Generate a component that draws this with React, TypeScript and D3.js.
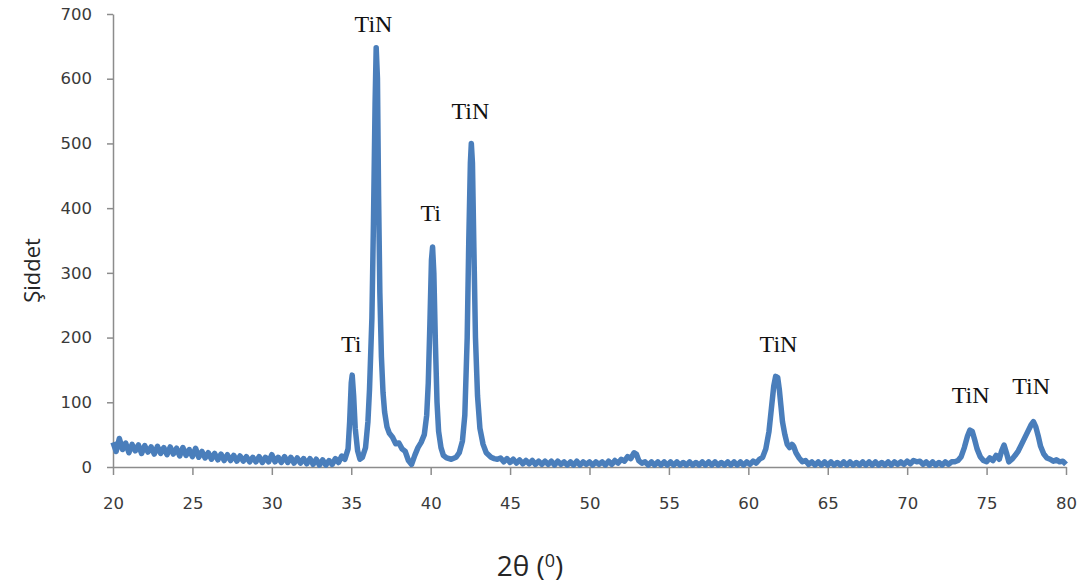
import React, { useEffect, useRef } from 'react';
import * as d3 from 'd3';

// 2θ (degrees) and intensity
const angles = [
  20.0, 20.2, 20.4, 20.6, 20.8, 21.0, 21.2, 21.4, 21.6, 21.8, 22.0, 22.2, 22.4, 22.6, 22.8,
  23.0, 23.2, 23.4, 23.6, 23.8, 24.0, 24.2, 24.4, 24.6, 24.8, 25.0, 25.2, 25.4, 25.6, 25.8,
  26.0, 26.2, 26.4, 26.6, 26.8, 27.0, 27.2, 27.4, 27.6, 27.8, 28.0, 28.2, 28.4, 28.6, 28.8,
  29.0, 29.2, 29.4, 29.6, 29.8, 30.0, 30.2, 30.4, 30.6, 30.8, 31.0, 31.2, 31.4, 31.6, 31.8,
  32.0, 32.2, 32.4, 32.6, 32.8, 33.0, 33.2, 33.4, 33.6, 33.8, 34.0, 34.2, 34.4, 34.6, 34.8,
  34.9, 35.0, 35.06, 35.15, 35.25, 35.4, 35.55, 35.7, 35.9, 36.05, 36.15, 36.3, 36.4, 36.5,
  36.57, 36.65, 36.72, 36.8, 36.9, 37.0, 37.1, 37.25, 37.4, 37.6, 37.8, 38.0, 38.2, 38.4,
  38.6, 38.8, 39.0, 39.2, 39.4, 39.6, 39.75, 39.85, 39.95, 40.05, 40.12, 40.2, 40.3, 40.4,
  40.5, 40.65, 40.8, 41.0, 41.3, 41.6, 41.8, 42.0, 42.15, 42.3, 42.4, 42.5, 42.56, 42.63,
  42.72, 42.82, 42.95, 43.1, 43.3, 43.5, 43.8, 44.0, 44.2, 44.4, 44.6, 44.8, 45.0, 45.2,
  45.4, 45.6, 45.8, 46.0, 46.2, 46.4, 46.6, 46.8, 47.0, 47.2, 47.4, 47.6, 47.8, 48.0, 48.2,
  48.4, 48.6, 48.8, 49.0, 49.2, 49.4, 49.6, 49.8, 50.0, 50.2, 50.4, 50.6, 50.8, 51.0, 51.2,
  51.4, 51.6, 51.8, 52.0, 52.2, 52.4, 52.6, 52.8, 52.95, 53.1, 53.3, 53.5, 53.7, 53.9, 54.1,
  54.3, 54.5, 54.7, 54.9, 55.1, 55.3, 55.5, 55.7, 55.9, 56.1, 56.3, 56.5, 56.7, 56.9, 57.1,
  57.3, 57.5, 57.7, 57.9, 58.1, 58.3, 58.5, 58.7, 58.9, 59.1, 59.3, 59.5, 59.7, 59.9, 60.1,
  60.3, 60.5, 60.7, 60.9, 61.1, 61.3, 61.45, 61.6, 61.72, 61.85, 61.95, 62.05, 62.15, 62.3,
  62.45, 62.6, 62.75, 62.85, 63.0, 63.2, 63.4, 63.6, 63.8, 64.0, 64.2, 64.4, 64.6, 64.8,
  65.0, 65.2, 65.4, 65.6, 65.8, 66.0, 66.2, 66.4, 66.6, 66.8, 67.0, 67.2, 67.4, 67.6, 67.8,
  68.0, 68.2, 68.4, 68.6, 68.8, 69.0, 69.2, 69.4, 69.6, 69.8, 70.0, 70.2, 70.4, 70.6, 70.8,
  71.0, 71.2, 71.4, 71.6, 71.8, 72.0, 72.2, 72.4, 72.6, 72.8, 73.0, 73.2, 73.4, 73.6, 73.8,
  73.95, 74.1, 74.25, 74.4, 74.6, 74.8, 75.0, 75.2, 75.4, 75.6, 75.8, 75.95, 76.1, 76.25,
  76.4, 76.6, 76.8, 77.0, 77.2, 77.4, 77.6, 77.8, 77.95, 78.1, 78.25, 78.4, 78.6, 78.8,
  79.0, 79.2, 79.4, 79.6, 79.8, 80.0,
];

const intensities = [
  38, 24, 44, 27, 37, 22, 35, 25, 34, 21, 33, 23, 31, 20, 32,
  21, 30, 19, 31, 20, 29, 17, 30, 18, 27, 16, 29, 15, 24, 14,
  22, 12, 21, 11, 20, 10, 19, 10, 18, 9, 17, 9, 16, 8, 15,
  8, 16, 7, 15, 8, 19, 8, 15, 7, 16, 7, 15, 6, 14, 6,
  13, 5, 13, 4, 12, 3, 11, 3, 10, 4, 13, 7, 17, 12, 28,
  70, 130, 142, 110, 60, 25, 12, 15, 30, 70, 120, 230, 380, 560,
  648, 600, 420, 270, 170, 115, 85, 62, 52, 46, 36, 37, 28, 24,
  10, 4, 18, 30, 38, 50, 80, 130, 220, 320, 340, 300, 190, 100,
  55, 30, 18, 14, 12, 15, 22, 40, 80, 200, 350, 470, 500, 470,
  340, 200, 110, 60, 35, 22, 15, 13, 12, 14, 8, 13, 7, 12,
  6, 11, 5, 10, 5, 10, 4, 9, 4, 9, 4, 9, 3, 9, 4,
  8, 3, 8, 3, 9, 3, 8, 4, 8, 3, 8, 4, 8, 3, 9,
  4, 10, 6, 12, 9, 16, 13, 22, 20, 10, 6, 8, 3, 8, 3,
  8, 3, 8, 3, 8, 3, 8, 3, 7, 3, 8, 3, 7, 3, 8,
  3, 8, 3, 8, 3, 7, 3, 8, 3, 8, 3, 8, 3, 8, 4,
  9, 6, 12, 15, 28, 55, 90, 125, 140, 138, 120, 95, 70, 50,
  35, 30, 35, 32, 22, 14, 8, 10, 4, 8, 3, 8, 3, 8,
  3, 8, 3, 7, 3, 8, 3, 8, 3, 7, 3, 8, 3, 8, 3,
  8, 3, 7, 3, 8, 3, 8, 4, 8, 4, 9, 5, 10, 8, 9,
  4, 8, 3, 8, 3, 7, 3, 8, 4, 8, 8, 10, 16, 30, 48,
  57, 55, 42, 28, 16, 10, 8, 14, 10, 18, 12, 25, 34, 22,
  8, 12, 18, 25, 35, 45, 55, 65, 70, 62, 48, 32, 20, 14,
  12, 9, 11, 8, 9, 4,
];

const xTicks = [20, 25, 30, 35, 40, 45, 50, 55, 60, 65, 70, 75, 80];
const yTicks = [0, 100, 200, 300, 400, 500, 600, 700];

// phase labels: [2θ, intensity at label centre, text]
const peakLabels: [number, number, string][] = [
  [35.0, 190, 'Ti'],
  [36.4, 685, 'TiN'],
  [40.0, 393, 'Ti'],
  [42.5, 550, 'TiN'],
  [61.9, 190, 'TiN'],
  [74.0, 112, 'TiN'],
  [77.8, 125, 'TiN'],
];

const W = 1080;
const H = 588;

const App = () => {
  const svgRef = useRef<SVGSVGElement>(null);

  useEffect(() => {
    const svg = d3.select(svgRef.current);
    svg.selectAll('*').remove();

    const margin = { top: 14, right: 14, bottom: 121, left: 113 };

    const x = d3.scaleLinear().domain([20, 80]).range([margin.left, W - margin.right]);
    const y = d3.scaleLinear().domain([0, 700]).range([H - margin.bottom, margin.top]);

    const axisColor = '#8c8c8c';
    const labelColor = '#3a3a3a';

    const yAxis = svg
      .append('g')
      .attr('transform', `translate(${margin.left},0)`)
      .call(d3.axisLeft(y).tickValues(yTicks).tickSize(6).tickSizeOuter(0).tickPadding(15));
    const xAxis = svg
      .append('g')
      .attr('transform', `translate(0,${H - margin.bottom})`)
      .call(d3.axisBottom(x).tickValues(xTicks).tickSize(8).tickSizeOuter(0).tickPadding(22));

    [xAxis, yAxis].forEach(g => {
      g.select('.domain').attr('stroke', axisColor).attr('stroke-width', 1.5);
      g.selectAll('.tick line').attr('stroke', axisColor).attr('stroke-width', 1.5);
      g.selectAll('.tick text')
        .attr('fill', labelColor)
        .style('font-family', '"DejaVu Sans", Verdana, sans-serif')
        .style('font-size', '16.5px');
    });

    const data = angles.map((a, i) => [a, intensities[i]] as [number, number]);
    const line = d3
      .line<[number, number]>()
      .x(d => x(d[0]))
      .y(d => y(d[1]))
      .curve(d3.curveLinear);

    svg
      .append('path')
      .datum(data)
      .attr('d', line)
      .attr('fill', 'none')
      .attr('stroke', '#4a7ebb')
      .attr('stroke-width', 5.5)
      .attr('stroke-linejoin', 'round');

    svg
      .selectAll('.peak-label')
      .data(peakLabels)
      .enter()
      .append('text')
      .attr('class', 'peak-label')
      .attr('x', d => x(d[0]))
      .attr('y', d => y(d[1]))
      .attr('text-anchor', 'middle')
      .attr('dominant-baseline', 'central')
      .attr('fill', '#111')
      .style('font-family', '"Liberation Serif", "Times New Roman", serif')
      .style('font-size', '24px')
      .text(d => d[2]);

    svg
      .append('text')
      .attr('transform', `translate(31,${(margin.top + H - margin.bottom) / 2 + 30}) rotate(-90)`)
      .attr('text-anchor', 'middle')
      .attr('dominant-baseline', 'central')
      .attr('fill', '#262626')
      .style('font-family', '"Open Sans", "Noto Sans", sans-serif')
      .style('font-size', '22px')
      .text('Şiddet');

    const title = svg
      .append('text')
      .attr('x', 530)
      .attr('y', 576)
      .attr('text-anchor', 'middle')
      .attr('fill', '#262626')
      .style('font-family', '"Open Sans", "Noto Sans", sans-serif')
      .style('font-size', '28px');
    title.append('tspan').text('2θ (');
    title.append('tspan').attr('dy', -9).style('font-size', '18px').text('0');
    title.append('tspan').attr('dy', 9).text(')');
  }, []);

  return (
    <svg
      ref={svgRef}
      width={W}
      height={H}
      style={{ position: 'absolute', left: 0, top: 0, background: '#fff' }}
    />
  );
};

export default App;
